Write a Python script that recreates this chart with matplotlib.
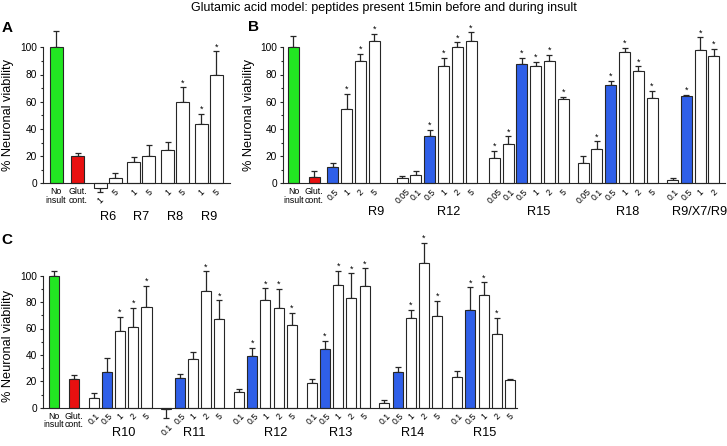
import matplotlib
matplotlib.use("Agg")
import matplotlib.pyplot as plt
import numpy as np

plt.rcParams["font.family"] = ["Liberation Sans", "DejaVu Sans"]

TITLE = "Glutamic acid model: peptides present 15min before and during insult"
CTRL_LABELS = ["No\ninsult", "Glut.\ncont."]
YLABEL = "% Neuronal viability"

# ---- panel A ----
a_ctrl = [100, 20]
a_ctrl_err = [12, 2]
a_names = ["R6", "R7", "R8", "R9"]
a_doses = [["1", "5"], ["1", "5"], ["1", "5"], ["1", "5"]]
a_vals = [[-3.2, 4.2], [16, 20], [24.5, 60], [43.5, 80]]
a_errs = [[3, 3.6], [3, 8], [6, 10.5], [7.5, 17]]
a_star = [[0, 0], [0, 0], [0, 1], [1, 1]]

# ---- panel B ----
b_ctrl = [100, 5]
b_ctrl_err = [8.5, 3.7]
b_names = ["R9", "R12", "R15", "R18", "R9/X7/R9"]
b_doses = [["0.5", "1", "2", "5"],
           ["0.05", "0.1", "0.5", "1", "2", "5"],
           ["0.05", "0.1", "0.5", "1", "2", "5"],
           ["0.05", "0.1", "0.5", "1", "2", "5"],
           ["0.1", "0.5", "1", "2"]]
b_vals = [[12.3, 54.3, 90, 104.5],
          [3.7, 6.2, 35, 86.4, 100.5, 105],
          [18.5, 29, 88, 86, 90, 62.2],
          [14.8, 25.2, 72.3, 96.8, 82.7, 63],
          [2.2, 64.2, 98, 93.3]]
b_errs = [[2.5, 11.7, 5, 5.5],
          [2, 3.2, 4.5, 5.6, 3.2, 6],
          [5.5, 5.6, 4, 3.4, 4.3, 1.5],
          [5, 5.7, 3, 2.7, 3.3, 5],
          [2, 1, 9.4, 5.5]]
b_star = [[0, 1, 1, 1],
          [0, 0, 1, 1, 1, 1],
          [1, 1, 1, 1, 1, 1],
          [0, 1, 1, 1, 1, 1],
          [0, 1, 1, 1]]

# ---- panel C ----
c_ctrl = [100, 21.5]
c_ctrl_err = [3.8, 3.3]
c_names = ["R10", "R11", "R12", "R13", "R14", "R15"]
c_doses = [["0.1", "0.5", "1", "2", "5"]] * 6
c_vals = [[7, 27.3, 58.2, 60.8, 76],
          [-1, 22.8, 36.7, 88.6, 67],
          [11.9, 39.2, 81.5, 75.7, 63],
          [19, 44.6, 92.7, 83, 92.4],
          [3.5, 27.3, 68.1, 109.4, 69.1],
          [23.5, 73.9, 85.3, 56.2, 20.8]]
c_errs = [[4.3, 10, 10.6, 14.7, 16.5],
          [7, 3, 5.8, 14.7, 14.4],
          [2.5, 6.3, 8.9, 14.2, 9.1],
          [3, 6.3, 11.1, 18.7, 13.2],
          [2, 3.5, 5.8, 15.2, 11.6],
          [4.3, 17.2, 9.6, 11.6, 1.3]]
c_star = [[0, 0, 1, 1, 1],
          [0, 0, 0, 1, 1],
          [0, 1, 1, 1, 1],
          [0, 1, 1, 1, 1],
          [0, 0, 1, 1, 1],
          [0, 1, 1, 1, 0]]

GREEN = "#22e622"
RED = "#e81010"
BLUE = "#2f5fe8"
EDGE = "#262626"
HIGHLIGHT_DOSE = "0.5"


def layout(sizes, ctrl_gap, gaps):
    # control bars first, then groups with step 1 and a gap before each group
    ctrl_x = [0.0, ctrl_gap]
    xs = []
    last = ctrl_gap
    for n, g in zip(sizes, gaps):
        xs.append(last + g + np.arange(n))
        last = xs[-1][-1]
    return ctrl_x, xs


def pts(px):
    return px * 72.0 / 100.0


def draw_panel(ax, ctrl, ctrl_err, names, doses, vals, errs, stars,
               ctrl_gap, gaps, width, xlim, name_shift, name_drop, highlight=True):
    ctrl_x, xs = layout([len(d) for d in doses], ctrl_gap, gaps)

    # control bars
    ax.bar(ctrl_x, ctrl, width, color=[GREEN, RED], edgecolor=EDGE, linewidth=0.8, zorder=2)
    ax.errorbar(ctrl_x, ctrl, yerr=[[0, 0], ctrl_err], fmt="none", ecolor=EDGE,
                elinewidth=0.9, capsize=2.2, capthick=0.9, zorder=1)
    for x, lab in zip(ctrl_x, CTRL_LABELS):
        ax.annotate(lab, (x, 0), xytext=(0, -pts(4)), textcoords="offset points",
                    ha="center", va="top", fontsize=6.3, linespacing=0.95)

    for gi in range(len(names)):
        x = xs[gi]
        v = np.array(vals[gi], dtype=float)
        e = np.array(errs[gi], dtype=float)
        cols = [BLUE if (highlight and d == HIGHLIGHT_DOSE) else "white" for d in doses[gi]]
        ax.bar(x, v, width, color=cols, edgecolor=EDGE, linewidth=0.8, zorder=2)
        lower = np.where(v < 0, e, 0)
        upper = np.where(v < 0, 0, e)
        ax.errorbar(x, v, yerr=[lower, upper], fmt="none", ecolor=EDGE,
                    elinewidth=0.9, capsize=2.2, capthick=0.9, zorder=1)
        for xi, vi, ei, si, d in zip(x, v, e, stars[gi], doses[gi]):
            if si:
                ax.annotate("*", (xi, vi + ei), xytext=(0, 0), textcoords="offset points",
                            ha="center", va="bottom", fontsize=6.5)
            base = min(0, vi - ei) if vi < 0 else 0
            ax.annotate(d, (xi, base), xytext=(pts(0.5), -pts(4)), textcoords="offset points",
                        ha="center", va="top", rotation=45, fontsize=6.3)
        ax.annotate(names[gi], (x.mean() + name_shift[gi], 0), xytext=(0, -pts(name_drop)),
                    textcoords="offset points", ha="center", va="center", fontsize=9.2)

    ax.set_xlim(*xlim)
    ax.set_ylim(-10, 130)
    for s in ["top", "right"]:
        ax.spines[s].set_visible(False)
    ax.spines["bottom"].set_position(("data", 0))
    ax.spines["left"].set_bounds(0, 100)
    for s in ["left", "bottom"]:
        ax.spines[s].set_linewidth(0.8)
        ax.spines[s].set_color(EDGE)
    ax.set_xticks([])
    ax.set_yticks(np.arange(0, 101, 20))
    ax.set_yticks(np.arange(10, 100, 20), minor=True)
    ax.tick_params(axis="y", which="major", length=2.4, width=0.8, labelsize=7.3, pad=2, color=EDGE)
    ax.tick_params(axis="y", which="minor", length=1.5, width=0.8, color=EDGE)
    ax.set_ylabel(YLABEL, fontsize=9.2)
    ax.patch.set_visible(False)


fig = plt.figure(figsize=(7.27, 4.46), dpi=100)
W, H = 727.0, 446.0

# axes placed in pixel terms: left, right, y of 0 and y of 100
def add_axes(left, right, y0, y100):
    ppu = (y0 - y100) / 100.0
    bottom_px = y0 + 10 * ppu
    top_px = y100 - 30 * ppu
    return fig.add_axes([left / W, 1 - bottom_px / H, (right - left) / W, (bottom_px - top_px) / H])

axA = add_axes(43, 230, 183.3, 47.3)
axB = add_axes(283, 725, 183.3, 47.3)
axC = add_axes(43, 517, 407.7, 275.7)

draw_panel(axA, a_ctrl, a_ctrl_err, a_names, a_doses, a_vals, a_errs, a_star,
           1.45, [1.5, 1.25, 1.25, 1.25], 0.87, (-0.87, 11.62), [0, 0, 0, 0], 34)
draw_panel(axB, b_ctrl, b_ctrl_err, b_names, b_doses, b_vals, b_errs, b_star,
           1.5, [1.37, 2.03, 1.7, 1.45, 1.5], 0.8, (-0.76, 31.35),
           [1.65, 0.85, 0.7, 0.75, 0.45], 29)
draw_panel(axC, c_ctrl, c_ctrl_err, c_names, c_doses, c_vals, c_errs, c_star,
           1.5, [1.5] * 6, 0.76, (-0.83, 35.03), [0.3, 0.1, 0.8, 0.15, 0.1, 0.1], 25)

# label anchor is the right-hand edge of the rotated text
axA.yaxis.set_label_coords(-0.155, 0.43)
axB.yaxis.set_label_coords(-0.063, 0.43)
axC.yaxis.set_label_coords(-0.062, 0.405)

fig.text(384 / W, 1 - 8.5 / H, TITLE, ha="center", va="center", fontsize=9)
fig.text(2 / W, 1 - 27.5 / H, "A", ha="left", va="center", fontsize=11, fontweight="bold")
fig.text(248 / W, 1 - 27 / H, "B", ha="left", va="center", fontsize=11, fontweight="bold")
fig.text(1 / W, 1 - 240 / H, "C", ha="left", va="center", fontsize=11, fontweight="bold")

fig.savefig("out.png", dpi=100)
